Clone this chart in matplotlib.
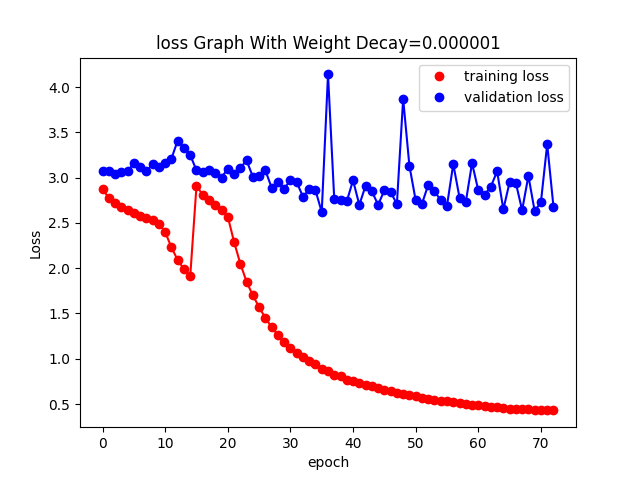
import matplotlib
matplotlib.use("Agg")
import matplotlib.pyplot as plt
import numpy as np

# loss values per epoch
train_loss = [2.88, 2.77, 2.72, 2.68, 2.64, 2.61, 2.58, 2.55, 2.53, 2.49,
              2.40, 2.23, 2.09, 1.99, 1.91, 2.91, 2.81, 2.75, 2.70, 2.64,
              2.57, 2.29, 2.05, 1.85, 1.70, 1.57, 1.45, 1.35, 1.26, 1.18,
              1.12, 1.06, 1.02, 0.98, 0.94, 0.89, 0.86, 0.82, 0.81, 0.77,
              0.76, 0.73, 0.71, 0.70, 0.68, 0.66, 0.64, 0.62, 0.61, 0.60,
              0.59, 0.57, 0.56, 0.54, 0.53, 0.53, 0.52, 0.51, 0.50, 0.49,
              0.49, 0.48, 0.47, 0.47, 0.46, 0.45, 0.45, 0.44, 0.44, 0.43,
              0.43, 0.43, 0.43]
val_loss = [3.07, 3.07, 3.04, 3.06, 3.07, 3.16, 3.12, 3.07, 3.15, 3.12,
            3.16, 3.21, 3.41, 3.33, 3.25, 3.08, 3.06, 3.08, 3.05, 3.00,
            3.10, 3.04, 3.11, 3.19, 3.01, 3.02, 3.08, 2.89, 2.95, 2.88,
            2.97, 2.95, 2.79, 2.87, 2.86, 2.62, 4.14, 2.76, 2.75, 2.74,
            2.97, 2.70, 2.91, 2.85, 2.70, 2.86, 2.84, 2.71, 3.87, 3.13,
            2.75, 2.71, 2.92, 2.85, 2.75, 2.69, 3.15, 2.78, 2.73, 3.16,
            2.86, 2.81, 2.90, 3.07, 2.65, 2.95, 2.94, 2.64, 3.02, 2.63,
            2.73, 3.37, 2.68]
epochs = np.arange(len(train_loss))

fig, ax = plt.subplots(figsize=(6.4, 4.8), dpi=100)

ax.plot(epochs, train_loss, 'ro', label="training loss")
ax.plot(epochs, train_loss, 'r-')
ax.plot(epochs, val_loss, 'bo', label="validation loss")
ax.plot(epochs, val_loss, 'b-')

ax.set_title("loss Graph With Weight Decay=0.000001")
ax.set_xlabel("epoch")
ax.set_ylabel("Loss")
ax.legend()

fig.savefig("out.png")
